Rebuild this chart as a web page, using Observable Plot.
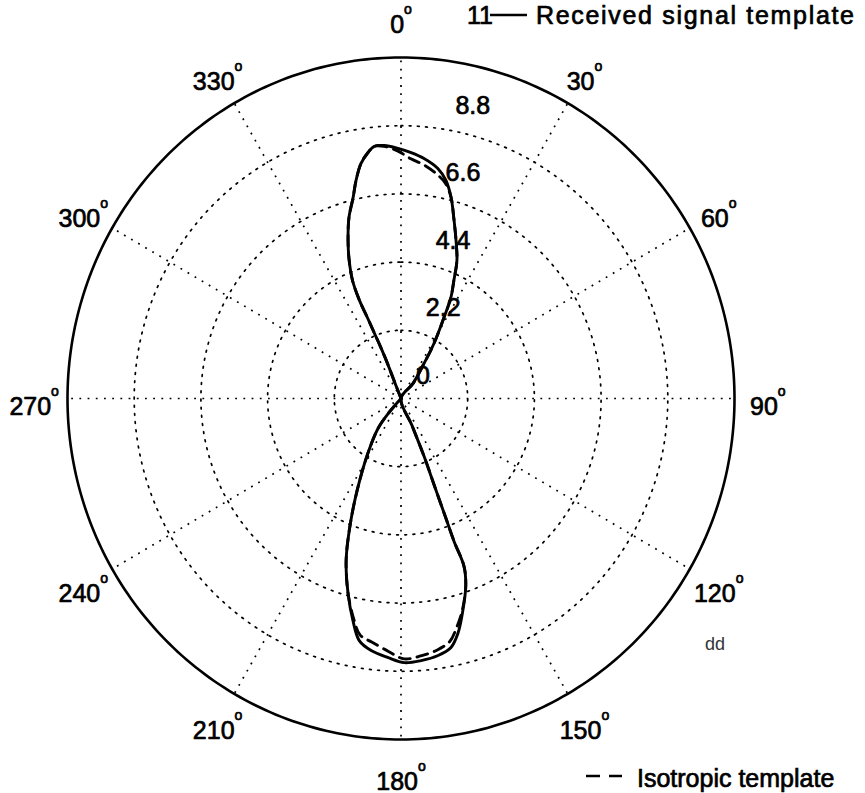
<!DOCTYPE html>
<html><head><meta charset="utf-8">
<script src="https://cdn.jsdelivr.net/npm/d3@7"></script>
<script src="https://cdn.jsdelivr.net/npm/@observablehq/plot@0.6"></script>
<style>
html,body{margin:0;padding:0;background:#fff;}
#chart{width:865px;height:793px;position:relative;}
</style></head><body><div id="chart"></div>
<script>
// ---- tick / grid definitions ----
const angleTicks = [0, 30, 60, 90, 120, 150, 180, 210, 240, 270, 300, 330];
const ringValues = [2.2, 4.4, 6.6, 8.8];
const ringLabelValues = [0, 2.2, 4.4, 6.6, 8.8];
const ringLabelTexts = ["0", "2.2", "4.4", "6.6", "8.8"];
const rMax = 11;
const ringLabelBearing = 8.5;

// ---- series (bearing in degrees clockwise from 0 at top, radius) ----
const patternAngle = [
  0,
  -21.7, -21.5, -22.0, -22.6, -23.0, -23.4, -22.8, -21.0, -18.9, -16.4,
  -13.7, -11.9, -9.9, -7.8, -6.2, -3.9, -0.7, 2.4, 5.6, 9.3,
  11.9, 14.3, 16.6, 19.6, 22.5, 24.6, 26.8, 28.5, 31.5, 33.9, 39.2,
  0,
  157.4, 157.8, 158.6, 159.0, 159.2, 159.0, 160.5, 163.4, 166.1, 168.4,
  171.6, 175.5, 179.3, 182.9, 186.9, 190.0, 192.5, 195.5, 199.1, 202.3,
  206.0, 211.3, 218.1, 221.2,
  0
];
const receivedR = [
  0,
  0.62, 1.21, 1.77, 2.28, 2.83, 3.45, 4.12, 4.77, 5.39, 6.08,
  6.67, 7.19, 7.69, 8.01, 8.18, 8.18, 8.07, 7.94, 7.78, 7.52,
  7.19, 6.69, 6.09, 5.41, 4.82, 4.19, 3.65, 2.97, 2.08, 1.36, 0.62,
  0,
  0.94, 1.99, 3.02, 4.07, 4.94, 5.80, 6.40, 7.14, 7.81, 8.20,
  8.38, 8.48, 8.52, 8.37, 8.19, 7.93, 7.33, 6.53, 5.53, 4.43,
  3.30, 2.15, 1.23, 0.60,
  0
];
const isotropicR = [
  0,
  0.62, 1.21, 1.77, 2.28, 2.83, 3.45, 4.12, 4.77, 5.39, 6.08,
  6.67, 7.19, 7.69, 8.01, 8.18, 8.15, 7.98, 7.74, 7.58, 7.33,
  7.10, 6.69, 6.09, 5.41, 4.82, 4.19, 3.65, 2.97, 2.08, 1.36, 0.62,
  0,
  0.94, 1.99, 3.02, 4.07, 4.94, 5.80, 6.40, 7.10, 7.62, 8.00,
  8.20, 8.33, 8.40, 8.17, 7.92, 7.75, 7.25, 6.53, 5.53, 4.43,
  3.30, 2.15, 1.23, 0.60,
  0
];
const legendTop = {tick: "11", label: "Received signal template"};
const legendBottom = {label: "Isotropic template"};
const strayText = "dd";

// ---- helpers ----
const rad = d => d * Math.PI / 180;
const px = (t, r) => r * Math.sin(rad(t));
const py = (t, r) => r * Math.cos(rad(t));

const received = patternAngle.map((t, i) => ({theta: t, r: receivedR[i]}));
const isotropic = patternAngle.map((t, i) => ({theta: t, r: isotropicR[i]}));
const ringPts = ringValues.flatMap(rv => d3.range(0, 361, 1).map(t => ({ring: rv, theta: t})));
const outerPts = d3.range(0, 361, 1).map(t => ({theta: t}));
const ringLabels = ringLabelValues.map((v, i) => ({v, text: ringLabelTexts[i]}));

const fontFamily = "'Liberation Sans', Arial, Helvetica, sans-serif";
const dotted = {stroke: "#000", strokeWidth: 1.7, strokeDasharray: "1.8,6.4"};
const heavy = {stroke: "#000", strokeWidth: 0.7};
const angleText = {x: a => px(a, 1.1 * rMax), y: a => py(a, 1.1 * rMax), text: a => String(a), fontSize: 25, lineAnchor: "middle", fill: "#000", ...heavy, className: "angle-label"};

const svg = Plot.plot({
  width: 865, height: 793, margin: 0,
  x: {domain: [-rMax, rMax], range: [67, 734], axis: null},
  y: {domain: [-rMax, rMax], range: [739, 57], axis: null},
  style: {fontFamily, background: "#fff", overflow: "visible"},
  marks: [
    Plot.line(ringPts, {x: d => px(d.theta, d.ring), y: d => py(d.theta, d.ring), z: "ring", ...dotted}),
    Plot.link(angleTicks, {x1: () => 0, y1: () => 0, x2: a => px(a, rMax), y2: a => py(a, rMax), ...dotted}),
    Plot.line(outerPts, {x: d => px(d.theta, rMax), y: d => py(d.theta, rMax), stroke: "#000", strokeWidth: 2.6}),
    Plot.line(isotropic, {x: d => px(d.theta, d.r), y: d => py(d.theta, d.r), stroke: "#000", strokeWidth: 2.9, strokeDasharray: "11,7", curve: "catmull-rom"}),
    Plot.line(received, {x: d => px(d.theta, d.r), y: d => py(d.theta, d.r), stroke: "#000", strokeWidth: 2.9, curve: "catmull-rom"}),
    Plot.text(angleTicks.filter(a => a !== 0), {...angleText, dy: 8}),
    Plot.text(angleTicks.filter(a => a === 0), {...angleText, dy: 2}),
    Plot.text(ringLabels, {x: d => px(ringLabelBearing, d.v), y: d => py(ringLabelBearing, d.v), text: "text", fontSize: 25, textAnchor: "start", lineAnchor: "bottom", dx: 15, dy: -15, fill: "#000", ...heavy})
  ]
});

// superscript "o" after the angle values (MATLAB style ^o)
d3.select(svg).selectAll("g.angle-label text").each(function() {
  d3.select(this).append("tspan").attr("dy", -19).attr("font-size", 14).text("o");
});

// legend entries
const lg = d3.select(svg).append("g").attr("font-family", fontFamily).attr("fill", "#000").attr("text-anchor", "start");
const txt = (x, y, size, s) => lg.append("text").attr("x", x).attr("y", y).attr("font-size", size)
  .attr("stroke", "#000").attr("stroke-width", 0.7).text(s);
txt(467, 24, 25, legendTop.tick);
lg.append("line").attr("x1", 490).attr("x2", 527).attr("y1", 15).attr("y2", 15).attr("stroke", "#000").attr("stroke-width", 2.6);
txt(536, 24, 25, legendTop.label).attr("textLength", 318);
lg.append("line").attr("x1", 586).attr("x2", 622).attr("y1", 776).attr("y2", 776).attr("stroke", "#000").attr("stroke-width", 2.6).attr("stroke-dasharray", "14,9");
txt(637, 787, 25, legendBottom.label);
lg.append("text").attr("x", 705).attr("y", 650).attr("font-size", 18).attr("fill", "#333").text(strayText);

document.getElementById("chart").appendChild(svg);
</script></body></html>
